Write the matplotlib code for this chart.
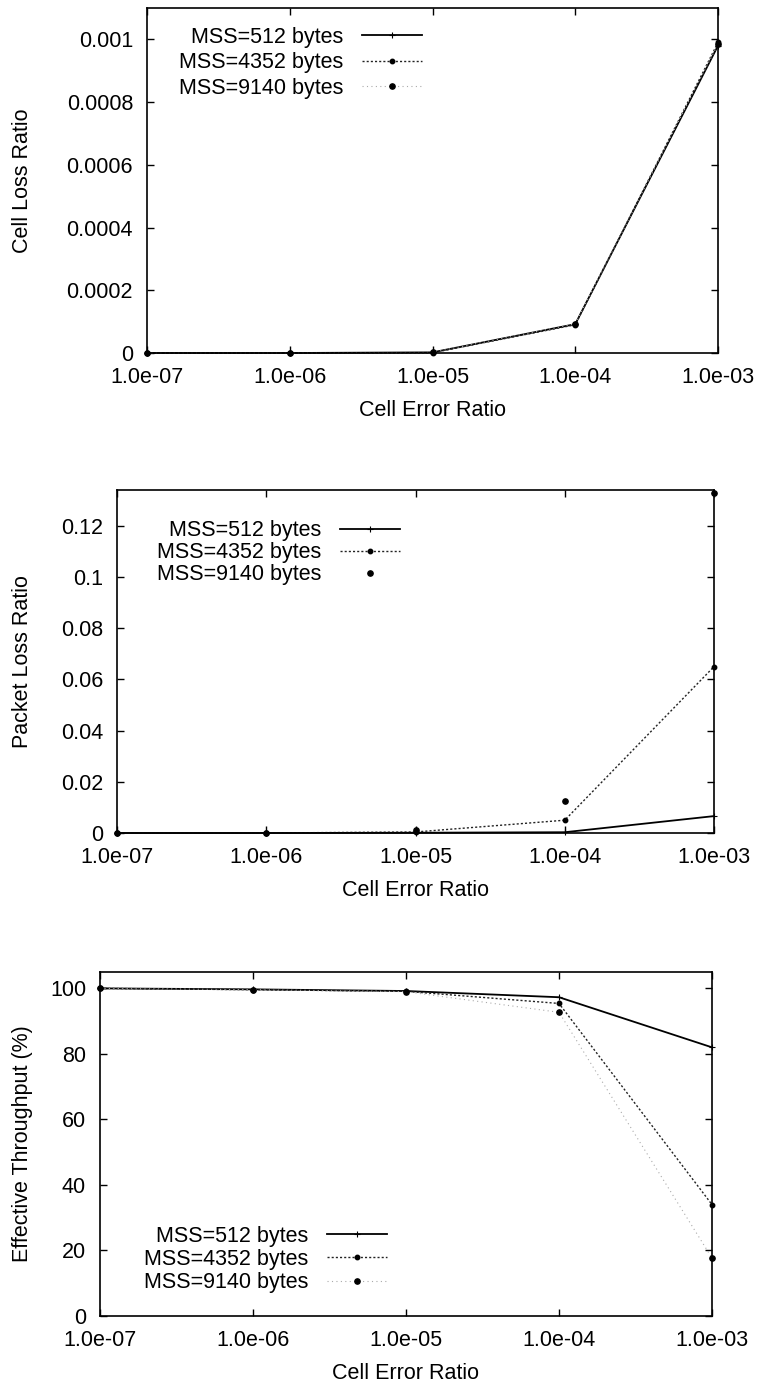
import matplotlib
matplotlib.use("Agg")
import matplotlib.pyplot as plt
from matplotlib.ticker import FixedLocator, FixedFormatter

plt.rcParams['font.family'] = ['Liberation Sans', 'DejaVu Sans']
FS = 15.5

# data
cer = [1e-7, 1e-6, 1e-5, 1e-4, 1e-3]
xtick_labels = ["1.0e-07", "1.0e-06", "1.0e-05", "1.0e-04", "1.0e-03"]
series_names = ["MSS=512 bytes", "MSS=4352 bytes", "MSS=9140 bytes"]

clr_512 = [0, 0, 2e-6, 9.2e-5, 0.00098]
clr_4352 = [0, 0, 1e-6, 9.0e-5, 0.00099]
clr_9140 = [0, 0, 2e-6, 9.3e-5, 0.000985]

plr_512 = [0, 0, 0.0001, 0.0003, 0.0066]
plr_4352 = [0, 0, 0.0004, 0.005, 0.065]
plr_9140 = [0, 0, 0.001, 0.0125, 0.133]

thr_512 = [100, 99.7, 99.2, 97.3, 82]
thr_4352 = [100, 99.6, 99.1, 95.4, 34]
thr_9140 = [100, 99.6, 99.0, 92.7, 17.7]

W, H = 760, 1391
fig = plt.figure(figsize=(W / 100, H / 100), dpi=100)


def make_axes(left, right, top, bottom):
    return fig.add_axes([left / W, 1 - bottom / H, (right - left) / W, (bottom - top) / H])


styles = [
    dict(color='black', lw=1.3, ls='-', marker='+', ms=4, mew=0.8),
    dict(color='#222222', lw=1.0, ls=(0, (1.5, 1.5)), marker='o', ms=3.2, mfc='black', mec='black'),
    dict(color='#aaaaaa', lw=0.8, ls=(0, (1, 3)), marker='o', ms=3.8, mfc='black', mec='black'),
]


def draw_panel(ax, ys, ylim, yticks, ylabels, ylabel, leg_anchor, leg_spacing, ylabel_x, points_only_last=False):
    for i, (y, name) in enumerate(zip(ys, series_names)):
        st = dict(styles[i])
        if points_only_last and i == 2:
            st['ls'] = 'none'
        ax.plot(cer, y, label=name, clip_on=False, **st)
    ax.set_xscale('log')
    ax.set_xlim(1e-7, 1e-3)
    ax.set_ylim(*ylim)
    ax.xaxis.set_major_locator(FixedLocator(cer))
    ax.xaxis.set_major_formatter(FixedFormatter(xtick_labels))
    ax.xaxis.set_minor_locator(FixedLocator([]))
    ax.yaxis.set_major_locator(FixedLocator(yticks))
    ax.yaxis.set_major_formatter(FixedFormatter(ylabels))
    ax.tick_params(direction='in', top=True, right=True, length=5, width=1, labelsize=FS)
    ax.tick_params(axis='y', pad=10)
    ax.tick_params(axis='x', pad=10)
    for s in ax.spines.values():
        s.set_linewidth(1.2)
    ax.set_xlabel("Cell Error Ratio", fontsize=FS, labelpad=9)
    ax.set_ylabel(ylabel, fontsize=FS)
    ax.yaxis.set_label_coords(ylabel_x, 0.5)
    ax.legend(loc='upper right', bbox_to_anchor=leg_anchor, frameon=False, markerfirst=False,
              handlelength=2.8, handletextpad=0.85, borderpad=0, labelspacing=leg_spacing,
              fontsize=FS, borderaxespad=0)


ax1 = make_axes(147, 718, 8, 353)
draw_panel(ax1, [clr_512, clr_4352, clr_9140], (0, 0.0011),
           [0, 0.0002, 0.0004, 0.0006, 0.0008, 0.001],
           ["0", "0.0002", "0.0004", "0.0006", "0.0008", "0.001"],
           "Cell Loss Ratio", (0.482, 0.945), 0.2, (33 - 147) / 571)

ax2 = make_axes(117, 714, 490, 833)
draw_panel(ax2, [plr_512, plr_4352, plr_9140], (0, 0.134),
           [0, 0.02, 0.04, 0.06, 0.08, 0.1, 0.12],
           ["0", "0.02", "0.04", "0.06", "0.08", "0.1", "0.12"],
           "Packet Loss Ratio", (0.474, 0.912), 0.05, (33 - 117) / 597, points_only_last=True)

ax3 = make_axes(100, 712, 972, 1316)
draw_panel(ax3, [thr_512, thr_4352, thr_9140], (0, 105),
           [0, 20, 40, 60, 80, 100],
           ["0", "20", "40", "60", "80", "100"],
           "Effective Throughput (%)", (0.469, 0.262), 0.1, (33 - 100) / 612)

fig.savefig("out.png", dpi=100)
